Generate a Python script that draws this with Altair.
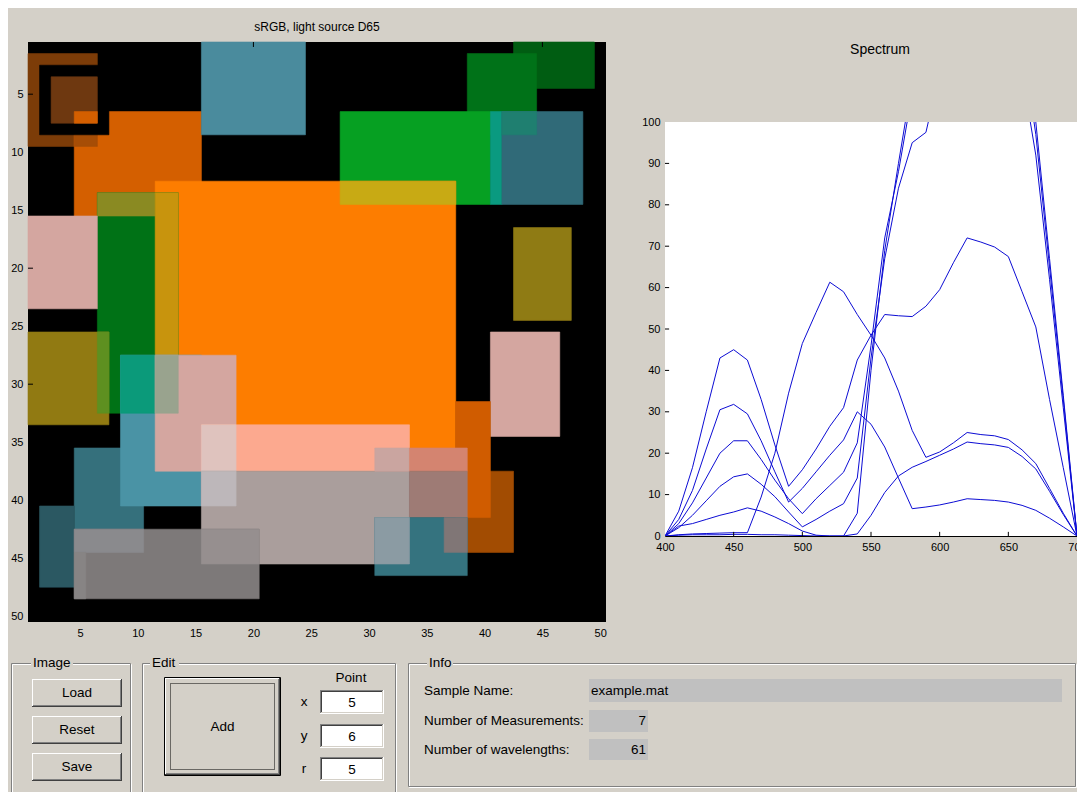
import altair as alt
import pandas as pd

BG = "#d4d0c8"
FONT = "Liberation Sans"

# ---------------- image (50 x 50 cells) : rectangles in painter order (cell edges 0..50)
RECT_X0 = [0, 4, 4, 1, 2, 4, 15, 42, 38, 27, 40, 41, 41, 11, 27, 6, 6, 11, 0, 42, 0, 6, 40,
           4, 8, 8, 11, 11, 15, 15, 15, 15, 38, 37, 30, 33, 33, 30, 30, 36, 1, 4, 4, 15, 4]
RECT_X1 = [6, 15, 6, 7, 6, 6, 24, 49, 44, 40, 41, 48, 44, 37, 37, 13, 11, 13, 6, 47, 7, 7, 46,
           10, 15, 11, 18, 13, 33, 18, 33, 18, 42, 40, 33, 38, 38, 38, 33, 38, 4, 20, 10, 20, 5]
RECT_Y0 = [1, 6, 8, 2, 3, 6, 0, 0, 1, 6, 6, 6, 6, 12, 12, 13, 13, 13, 15, 16, 25, 25, 25,
           35, 27, 27, 27, 27, 33, 33, 37, 37, 37, 31, 35, 35, 37, 41, 41, 41, 40, 42, 42, 42, 44]
RECT_Y1 = [9, 15, 9, 8, 7, 7, 8, 4, 8, 14, 14, 14, 8, 37, 14, 32, 15, 32, 23, 24, 33, 32, 34,
           42, 40, 32, 37, 32, 37, 37, 45, 40, 44, 41, 37, 37, 41, 46, 45, 44, 47, 48, 44, 45, 48]
RECT_COLOR = ["#7c3c08", "#d45f00", "#a64d06", "#000000", "#6e3810", "#d45f00", "#4a8b9d",
              "#005d12", "#007218", "#06a022", "#0a9a80", "#306a78", "#1f7f70", "#fd7d00",
              "#c8aa14", "#007216", "#8a8a22", "#c8940d", "#d4a6a0", "#8f7b14", "#917a12",
              "#5e9020", "#d4a6a0", "#35707c", "#4a93a5", "#0b9a7a", "#d4a6a0", "#99a38e",
              "#fca98f", "#dfc3be", "#aa9e9c", "#bdb7ba", "#a24c02", "#d05c00", "#caa5a0",
              "#d48470", "#9e7b75", "#35737f", "#8b9ba3", "#807676", "#2b5862", "#7d7979",
              "#8a8a8d", "#968f8f", "#878484"]
IMG_TICKS = [5, 10, 15, 20, 25, 30, 35, 40, 45, 50]
IMG_TITLE = "sRGB, light source D65"

# ---------------- spectrum: 7 measurements, 400..700 nm
WAVELENGTHS = list(range(400, 701, 10))
S1 = [0, 6, 16.5, 30, 43, 45, 42.5, 33, 22, 12, 16, 21, 26.5, 31, 42.5, 48.5, 53.5, 53.2, 53, 55.5,
      59.5, 66, 72, 71, 69.8, 67.5, 59, 50.5, 33, 16.5, 0]
S2 = [0, 4, 11, 21, 30.5, 31.8, 29.5, 23, 15.5, 8.2, 11.5, 15.5, 19.5, 23.2, 30, 27, 21.5, 14, 6.6,
      7, 7.5, 8.2, 9, 8.8, 8.6, 8.2, 7.4, 6.2, 4.3, 2.2, 0]
S3 = [0, 3, 8, 14, 20, 23, 23, 18.5, 13.5, 9, 5.4, 9, 12.2, 15.4, 22.5, 46, 72, 88, 107, 125,
      135, 140, 142, 140, 135, 128, 112, 92, 62, 31, 0]
S4 = [0, 2, 5, 8.5, 12, 14.3, 15, 12.5, 9.5, 5.8, 2.2, 4, 6, 7.8, 14, 43, 67, 84, 95, 97.5,
      112, 125, 130, 130, 128, 125, 122, 100, 67, 34, 0]
S5 = [0, 2.4, 3, 4, 5, 5.8, 6.8, 6, 4.6, 3, 1.2, 0.2, 0, 0, 5.5, 40, 69, 90, 110, 130,
      140, 145, 145, 142, 138, 130, 120, 97, 65, 33, 0]
S6 = [0, 0.3, 0.5, 0.6, 0.7, 0.8, 0.8, 9.4, 20, 34.5, 46.5, 54, 61.3, 59, 53.5, 48.5, 43, 35, 25.5,
      19, 20.3, 22.5, 25, 24.5, 24.2, 23.3, 20.8, 17.5, 11.5, 5.5, 0]
S7 = [0, 0.2, 0.3, 0.3, 0.3, 0.4, 0.4, 0.3, 0.3, 0.2, 0.1, 0, 0, 0, 0.5, 5, 10.5, 14.5, 16.6,
      18, 19.5, 21, 22.7, 22.3, 22, 21.4, 19.2, 16.2, 10.8, 5.2, 0]
SERIES = {"m1": S1, "m2": S2, "m3": S3, "m4": S4, "m5": S5, "m6": S6, "m7": S7}
SPEC_X_TICKS = [400, 450, 500, 550, 600, 650, 700]
SPEC_Y_TICKS = [0, 10, 20, 30, 40, 50, 60, 70, 80, 90, 100]
SPEC_TITLE = "Spectrum"

# ---------------- GUI texts
SAMPLE_NAME = "example.mat"
N_MEAS = "7"
N_WL = "61"

# ================= image chart
img_df = pd.DataFrame({
    "x": [v + 0.5 for v in RECT_X0], "x2": [v + 0.5 for v in RECT_X1],
    "y": [v + 0.5 for v in RECT_Y0], "y2": [v + 0.5 for v in RECT_Y1],
    "c": RECT_COLOR,
})
IX = alt.Scale(domain=[0.5, 50.5], nice=False, zero=False)
IY = alt.Scale(domain=[0.5, 50.5], nice=False, zero=False, reverse=True)
ax_img = dict(values=IMG_TICKS, title=None, grid=False, domain=False, ticks=False,
              labelPadding=5, labelFontSize=11, labelFont=FONT, labelColor="black",
              labelFlush=False, labelOverlap=False, format="d")
rects = alt.Chart(img_df).mark_rect(strokeWidth=0.6).encode(
    x=alt.X("x:Q", scale=IX, axis=alt.Axis(**ax_img)), x2="x2:Q",
    y=alt.Y("y:Q", scale=IY, axis=alt.Axis(**ax_img)), y2="y2:Q",
    color=alt.Color("c:N", scale=None),
    stroke=alt.Stroke("c:N", scale=None),
)
vt = pd.DataFrame({"t": IMG_TICKS * 2,
                   "a": [0.5] * 10 + [50.5] * 10,
                   "b": [0.93] * 10 + [50.07] * 10})
vticks = alt.Chart(vt).mark_rule(color="black", strokeWidth=1).encode(
    x=alt.X("t:Q", scale=IX, axis=alt.Axis(**ax_img)),
    y=alt.Y("a:Q", scale=IY, axis=alt.Axis(**ax_img)), y2="b:Q")
htk = alt.Chart(vt).mark_rule(color="black", strokeWidth=1).encode(
    y=alt.Y("t:Q", scale=IY, axis=alt.Axis(**ax_img)),
    x=alt.X("a:Q", scale=IX, axis=alt.Axis(**ax_img)), x2="b:Q")
image_chart = alt.layer(rects, vticks, htk).properties(
    width=578, height=580,
    title=alt.TitleParams(IMG_TITLE, font=FONT, fontSize=12, fontWeight="normal",
                          color="black", offset=8, anchor="middle"),
    view=alt.ViewBackground(fill="#000000", stroke=None),
)

# ================= spectrum chart (plot region sits 80px below the image top)
SPEC_W, SPEC_H, SPEC_TOP = 412, 494, 80
rows = []
for name, vals in SERIES.items():
    for w, v in zip(WAVELENGTHS, vals):
        rows.append({"wl": w, "v": v, "s": name})
spec_df = pd.DataFrame(rows)
SX = alt.Scale(domain=[400, 700], nice=False, zero=False)
SY = alt.Scale(domain=[0, 100], nice=False, zero=False, range=[SPEC_H, SPEC_TOP])
ax_sx = alt.Axis(values=SPEC_X_TICKS, title=None, grid=False, domain=True, domainColor="black",
                 ticks=False, labelPadding=5, labelFontSize=11, labelFont=FONT,
                 labelColor="black", labelFlush=False, labelOverlap=False, format="d")
ax_sy = alt.Axis(values=SPEC_Y_TICKS, title=None, grid=False, domain=True, domainColor="black",
                 ticks=False, labelPadding=5, labelFontSize=11, labelFont=FONT,
                 labelColor="black", labelFlush=False, labelOverlap=False, format="d")
frame_df = pd.DataFrame({"x": [400, 400], "x2": [700, 700], "y": [0, 100], "y2": [100, 125],
                         "c": ["#ffffff", BG]})
white_bg = alt.Chart(frame_df.iloc[[0]]).mark_rect().encode(
    x=alt.X("x:Q", scale=SX, axis=ax_sx), x2="x2:Q",
    y=alt.Y("y:Q", scale=SY, axis=ax_sy), y2="y2:Q", color=alt.Color("c:N", scale=None))
mask = alt.Chart(frame_df.iloc[[1]]).mark_rect().encode(
    x=alt.X("x:Q", scale=SX, axis=ax_sx), x2="x2:Q",
    y=alt.Y("y:Q", scale=SY, axis=ax_sy), y2="y2:Q", color=alt.Color("c:N", scale=None))
lines = alt.Chart(spec_df).mark_line(clip=True, color="#0c0cd4", strokeWidth=1).encode(
    x=alt.X("wl:Q", scale=SX, axis=ax_sx),
    y=alt.Y("v:Q", scale=SY, axis=ax_sy),
    detail="s:N",
)
xt = pd.DataFrame({"w": SPEC_X_TICKS[1:-1], "a": [0] * 5, "b": [1.0] * 5})
xticks = alt.Chart(xt).mark_rule(color="black").encode(
    x=alt.X("w:Q", scale=SX, axis=ax_sx), y=alt.Y("a:Q", scale=SY, axis=ax_sy), y2="b:Q")
yt = pd.DataFrame({"v": SPEC_Y_TICKS[1:-1], "a": [400] * 9, "b": [403] * 9})
yticks = alt.Chart(yt).mark_rule(color="black").encode(
    y=alt.Y("v:Q", scale=SY, axis=ax_sy), x=alt.X("a:Q", scale=SX, axis=ax_sx), x2="b:Q")
title_txt = alt.Chart(pd.DataFrame({"t": [SPEC_TITLE]})).mark_text(
    font=FONT, fontSize=14, align="center", baseline="middle", color="black"
).encode(text="t:N", x=alt.value(SPEC_W / 2 + 9), y=alt.value(8))
spectrum_chart = alt.layer(white_bg, lines, mask, xticks, yticks, title_txt).properties(
    width=SPEC_W, height=SPEC_H, view=alt.ViewBackground(stroke=None))

# ================= GUI panel (layout in window pixels)
fills = [(8, 1077, 650, 800, BG)]
strokes = []
texts_l, texts_c, texts_r = [], [], []


def raised(x0, y0, x1, y1):
    return [(x0, x1, y0, y1, "#404040"), (x0, x1 - 1, y0, y1 - 1, "#ffffff"),
            (x0 + 1, x1 - 1, y0 + 1, y1 - 1, "#808080"), (x0 + 1, x1 - 2, y0 + 1, y1 - 2, BG)]


def sunken(x0, y0, x1, y1):
    return [(x0, x1, y0, y1, "#ffffff"), (x0, x1 - 1, y0, y1 - 1, "#808080"),
            (x0 + 1, x1 - 1, y0 + 1, y1 - 1, BG), (x0 + 1, x1 - 2, y0 + 1, y1 - 2, "#404040"),
            (x0 + 2, x1 - 2, y0 + 2, y1 - 2, "#ffffff")]


FRAMES = [("Image", 11, 662, 131, 800, 31), ("Edit", 142, 662, 396, 800, 150),
          ("Info", 408, 662, 1076, 786, 427)]
for label, x0, y0, x1, y1, lx in FRAMES:
    strokes.append((x0 + 1.5, x1 + 0.5, y0 + 1.5, y1 + 0.5, "#ffffff"))
    strokes.append((x0 + 0.5, x1 - 0.5, y0 + 0.5, y1 - 0.5, "#808080"))
    texts_l.append((label, lx + 2, y0))

BUTTONS = [("Load", 32, 678, 122, 706), ("Reset", 32, 715, 122, 743),
           ("Save", 32, 752, 122, 780), ("Add", 165, 677, 280, 774)]
for label, x0, y0, x1, y1 in BUTTONS:
    fills += raised(x0, y0, x1, y1)
    texts_c.append((label, (x0 + x1) / 2, (y0 + y1) / 2))

BOXES = [("x", "5", 689, 713), ("y", "6", 723, 747), ("r", "5", 756, 780)]
for lab, val, y0, y1 in BOXES:
    fills += sunken(320, y0, 384, y1)
    texts_c.append((val, 352, (y0 + y1) / 2 + 1))
    texts_c.append((lab, 304, (y0 + y1) / 2))
texts_c.append(("Point", 351, 677))

INFO = [("Sample Name:", SAMPLE_NAME, 678, 701, 1062, "l"),
        ("Number of Measurements:", N_MEAS, 709, 731, 648, "r"),
        ("Number of wavelengths:", N_WL, 738, 759, 648, "r")]
for lab, val, y0, y1, bx1, al in INFO:
    fills.append((589, bx1, y0, y1, "#c0c0c0"))
    ym = (y0 + y1) / 2
    texts_l.append((lab, 424, ym))
    if al == "l":
        texts_l.append((val, 591, ym))
    else:
        texts_r.append((val, bx1 - 2, ym))

label_bg = [(lx, lx + w, 655, 669, BG) for (lab, x0, y0, x1, y1, lx), w in
            zip(FRAMES, [42, 29, 26])]

GX = alt.Scale(domain=[28, 606], nice=False, zero=False)
GY = alt.Scale(domain=[650, 800], nice=False, zero=False, reverse=True)


def rect_df(items):
    return pd.DataFrame(items, columns=["x", "x2", "y", "y2", "c"])


def txt_df(items):
    return pd.DataFrame(items, columns=["t", "x", "y"])


enc_r = dict(x=alt.X("x:Q", scale=GX, axis=None), x2="x2:Q",
             y=alt.Y("y:Q", scale=GY, axis=None), y2="y2:Q")
g_fill = alt.Chart(rect_df(fills)).mark_rect().encode(
    color=alt.Color("c:N", scale=None), **enc_r)
g_stroke = alt.Chart(rect_df(strokes)).mark_rect(fillOpacity=0, strokeWidth=1).encode(
    stroke=alt.Stroke("c:N", scale=None), **enc_r)
g_lbg = alt.Chart(rect_df(label_bg)).mark_rect().encode(
    color=alt.Color("c:N", scale=None), **enc_r)
g_focus = alt.Chart(rect_df([(170.5, 274.5, 682.5, 768.5, "#000000")])).mark_rect(
    fillOpacity=0, strokeWidth=1, strokeDash=[1, 1]).encode(
    stroke=alt.Stroke("c:N", scale=None), **enc_r)
g_border = alt.Chart(rect_df([(164.5, 280.5, 676.5, 774.5, "#000000")])).mark_rect(
    fillOpacity=0, strokeWidth=1).encode(stroke=alt.Stroke("c:N", scale=None), **enc_r)


def text_layer(items, align):
    return alt.Chart(txt_df(items)).mark_text(
        font=FONT, fontSize=13.5, align=align, baseline="middle", color="black"
    ).encode(x=alt.X("x:Q", scale=GX, axis=None), y=alt.Y("y:Q", scale=GY, axis=None),
             text="t:N")


gui = alt.layer(g_fill, g_stroke, g_lbg, g_border, g_focus,
                text_layer(texts_l, "left"), text_layer(texts_c, "center"),
                text_layer(texts_r, "right")).properties(
    width=578, height=150, view=alt.ViewBackground(stroke=None))

chart = alt.concat(image_chart, spectrum_chart, gui, columns=2,
                   spacing={"row": 29, "column": 59}, bounds="flush", align="each").properties(
    padding={"left": 0, "top": 10, "right": -10, "bottom": 0}
).configure(background=BG)

chart.save("out.html", embed_options={"renderer": "svg", "actions": False})
